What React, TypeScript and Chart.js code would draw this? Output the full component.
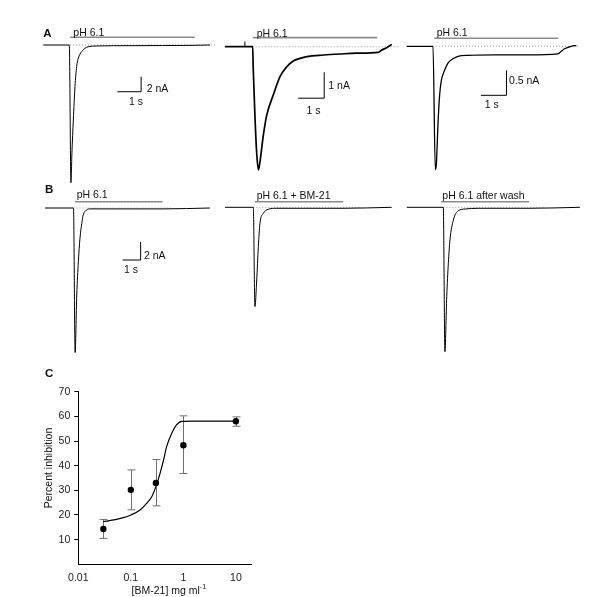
import React, { useEffect, useRef } from 'react';
import { Chart, registerables } from 'chart.js';
Chart.register(...registerables);

const FONT = "'Liberation Sans', Arial, Helvetica, sans-serif";
Chart.defaults.font.family = FONT;

// ---------- Panel A traces (time in s, current in nA) ----------
const A1_T = [-1.1, 0, 0.07, 0.11, 0.17, 0.24, 0.31, 0.38, 0.52, 0.66, 0.8, 1.16, 2.56, 5.3, 5.94];
const A1_V = [0, 0, -18.36, -14.44, -10.0, -5.56, -2.89, -1.77, -0.89, -0.44, -0.23, -0.13, -0.09, -0.04, 0];

const A2_T = [-1.07, 0, 0.02, 0.09, 0.15, 0.22, 0.28, 0.41, 0.54, 0.79, 1.05, 1.31, 1.56, 1.82, 2.08, 2.72, 3.36, 4.0, 4.83, 4.96, 5.15, 5.35];
const A2_V = [0, 0, -0.83, -2.75, -4.04, -4.74, -4.42, -3.4, -2.63, -1.86, -1.15, -0.77, -0.55, -0.45, -0.38, -0.32, -0.28, -0.25, -0.22, -0.13, -0.04, 0.09];

const A3_T = [-1.03, 0, 0.09, 0.13, 0.2, 0.26, 0.32, 0.46, 0.59, 0.78, 0.98, 1.37, 2.41, 3.71, 4.88, 5.01, 5.14, 5.4, 5.6];
const A3_V = [0, 0, -2.47, -2.37, -1.5, -0.97, -0.7, -0.47, -0.33, -0.25, -0.2, -0.18, -0.17, -0.17, -0.15, -0.1, -0.05, 0, 0.02];

// ---------- Panel B traces ----------
const B1_T = [-1.58, 0, 0.09, 0.18, 0.27, 0.36, 0.46, 0.54, 0.73, 0.92, 4.97, 7.58];
const B1_V = [0, 0, -16.06, -9.67, -5.97, -3.37, -1.7, -0.78, -0.22, -0.1, -0.1, 0];

const B2_T = [-1.57, 0, 0.09, 0.19, 0.28, 0.37, 0.56, 0.83, 1.3, 4.98, 7.69];
const B2_V = [0, 0, -11.04, -8.08, -4.38, -1.78, -0.67, -0.22, -0.11, -0.11, 0];

const B3_T = [-2.03, 0, 0.09, 0.19, 0.28, 0.37, 0.56, 0.83, 1.21, 1.94, 4.76, 7.59];
const B3_V = [0, 0, -16.04, -9.93, -6.22, -3.63, -1.41, -0.38, -0.19, -0.11, -0.11, 0];

// pH application periods (s) and baseline dotted extents (s)
const A1_PH = [0.03, 5.3];
const A2_PH = [0, 4.79];
const A3_PH = [0.05, 4.89];
const B1_PH = [0.08, 4.95];
const B2_PH = [0.09, 5.0];
const B3_PH = [-0.13, 4.76];
const A1_DOT = [0.03, 6.15];
const A2_DOT = [0, 5.67];
const A3_DOT = [0, 5.74];
const B1_DOT = [0, 5.4];
const B2_DOT = [0, 6.0];
const B3_DOT = [0, 5.6];

// scale bars: [1 s, X nA]
const A1_SCALE = [1, 2];
const A2_SCALE = [1, 1];
const A3_SCALE = [1, 0.5];
const B1_SCALE = [1, 2];

// ---------- Panel C ----------
const C_X = [0.03, 0.1, 0.3, 1, 10];
const C_Y = [14.3, 30.2, 33.0, 48.3, 58.0];
const C_LO = [10.5, 22.1, 23.7, 36.8, 56.0];
const C_HI = [18.2, 38.3, 42.5, 60.2, 59.8];
const FIT_X = [0.03, 0.047, 0.072, 0.1, 0.15, 0.2, 0.25, 0.3, 0.36, 0.42, 0.48, 0.6, 0.74, 0.93, 1.5, 3, 10];
const FIT_Y = [17.3, 18.0, 18.9, 20.0, 22.0, 24.7, 27.4, 31.5, 36.9, 42.3, 47.7, 53.1, 56.5, 58.0, 58.1, 58.1, 58.1];
const X_TICKS = [0.01, 0.1, 1, 10];

// ---------- layout (pixels) ----------
type Box = { left: number; top: number; width: number; height: number; ox: number; oy: number; sx: number; sy: number };
type Panel = {
  box: Box; t: number[]; v: number[]; lw: number; ph: number[]; phLevel: number; dot: number[];
  scale?: number[]; scaleAt?: number[]; tick?: number[];
};

const PANELS: Panel[] = [
  { box: { left: 35, top: 22, width: 185, height: 168, ox: 69.3, oy: 45, sx: 23.7, sy: 7.5 },
    t: A1_T, v: A1_V, lw: 1, ph: A1_PH, phLevel: 1.03, dot: A1_DOT, scale: A1_SCALE, scaleAt: [2.03, -6.23] },
  { box: { left: 212, top: 22, width: 200, height: 168, ox: 252.7, oy: 46.7, sx: 26, sy: 26 },
    t: A2_T, v: A2_V, lw: 1.7, ph: A2_PH, phLevel: 0.35, dot: A2_DOT, scale: A2_SCALE, scaleAt: [1.75, -1.98], tick: [-0.3, 0.2] },
  { box: { left: 400, top: 22, width: 190, height: 168, ox: 433, oy: 46.3, sx: 25.6, sy: 50 },
    t: A3_T, v: A3_V, lw: 1.3, ph: A3_PH, phLevel: 0.16, dot: A3_DOT, scale: A3_SCALE, scaleAt: [1.87, -0.98] },
  { box: { left: 35, top: 185, width: 190, height: 175, ox: 73.5, oy: 208, sx: 18, sy: 9 },
    t: B1_T, v: B1_V, lw: 1, ph: B1_PH, phLevel: 0.7, dot: B1_DOT, scale: B1_SCALE, scaleAt: [2.73, -5.78] },
  { box: { left: 215, top: 185, width: 190, height: 175, ox: 253.3, oy: 207.3, sx: 18, sy: 9 },
    t: B2_T, v: B2_V, lw: 1, ph: B2_PH, phLevel: 0.62, dot: B2_DOT },
  { box: { left: 400, top: 185, width: 190, height: 175, ox: 443.3, oy: 207.3, sx: 18, sy: 9 },
    t: B3_T, v: B3_V, lw: 1, ph: B3_PH, phLevel: 0.62, dot: B3_DOT },
];

function TraceChart({ p }: { p: Panel }) {
  const ref = useRef<HTMLCanvasElement>(null);
  const b = p.box;
  useEffect(() => {
    const xmin = (b.left - b.ox) / b.sx;
    const xmax = (b.left + b.width - b.ox) / b.sx;
    const ymax = (b.oy - b.top) / b.sy;
    const ymin = (b.oy - b.top - b.height) / b.sy;
    const datasets: any[] = [
      { data: p.t.map((t, i) => ({ x: t, y: p.v[i] })), borderColor: '#000', borderWidth: p.lw,
        cubicInterpolationMode: 'monotone', order: 0 },
      { data: [{ x: p.dot[0], y: 0 }, { x: p.dot[1], y: 0 }], borderColor: '#9a9a9a', borderWidth: 1,
        borderDash: [1, 2], order: 3 },
      { data: [{ x: p.ph[0], y: p.phLevel }, { x: p.ph[1], y: p.phLevel }], borderColor: '#8c8c8c',
        borderWidth: 1.6, order: 2 },
    ];
    if (p.scale && p.scaleAt) {
      const [t0, v0] = p.scaleAt;
      const [dt, dv] = p.scale;
      datasets.push({ data: [{ x: t0, y: v0 }, { x: t0 + dt, y: v0 }, { x: t0 + dt, y: v0 + dv }],
        borderColor: '#000', borderWidth: 1, order: 1 });
    }
    if (p.tick) {
      datasets.push({ data: [{ x: p.tick[0], y: 0 }, { x: p.tick[0], y: p.tick[1] }],
        borderColor: '#000', borderWidth: 1, order: 1 });
    }
    const chart = new Chart(ref.current as HTMLCanvasElement, {
      type: 'line',
      data: { datasets },
      options: {
        animation: false, responsive: false, events: [],
        layout: { padding: 0 },
        elements: { point: { radius: 0 }, line: { tension: 0, fill: false } },
        plugins: { legend: { display: false }, tooltip: { enabled: false } },
        scales: {
          x: { type: 'linear', display: false, min: xmin, max: xmax },
          y: { type: 'linear', display: false, min: ymin, max: ymax },
        },
      } as any,
    });
    return () => chart.destroy();
  }, []);
  return (
    <canvas ref={ref} width={b.width} height={b.height}
      style={{ position: 'absolute', left: b.left, top: b.top, width: b.width, height: b.height }} />
  );
}

const errorBarPlugin = {
  id: 'errorBars',
  beforeDatasetsDraw(chart: any) {
    const { ctx, scales } = chart;
    const x = scales.x, y = scales.y;
    ctx.save();
    ctx.strokeStyle = '#707070';
    ctx.lineWidth = 1;
    C_X.forEach((cx, i) => {
      const px = Math.round(x.getPixelForValue(cx)) + 0.5;
      const lo = y.getPixelForValue(C_LO[i]);
      const hi = y.getPixelForValue(C_HI[i]);
      ctx.beginPath();
      ctx.moveTo(px, lo); ctx.lineTo(px, hi);
      ctx.moveTo(px - 4, lo); ctx.lineTo(px + 4, lo);
      ctx.moveTo(px - 4, hi); ctx.lineTo(px + 4, hi);
      ctx.stroke();
    });
    ctx.restore();
  },
};

function DoseChart() {
  const ref = useRef<HTMLCanvasElement>(null);
  useEffect(() => {
    const tickFont = { family: FONT, size: 10.5 };
    const chart = new Chart(ref.current as HTMLCanvasElement, {
      type: 'line',
      data: {
        datasets: [
          { data: FIT_X.map((x, i) => ({ x, y: FIT_Y[i] })), borderColor: '#000', borderWidth: 1.2,
            cubicInterpolationMode: 'monotone', pointRadius: 0, order: 1 },
          { data: C_X.map((x, i) => ({ x, y: C_Y[i] })), showLine: false, pointRadius: 3.2,
            pointBackgroundColor: '#000', pointBorderColor: '#000', pointBorderWidth: 0, order: 0 },
        ],
      },
      options: {
        animation: false, responsive: false, events: [],
        layout: { padding: { left: 0, right: 18.3, top: 26.7, bottom: 0 } },
        plugins: { legend: { display: false }, tooltip: { enabled: false } },
        scales: {
          x: {
            type: 'logarithmic', min: 0.01, max: 20,
            afterBuildTicks: (s: any) => { s.ticks = X_TICKS.map((v) => ({ value: v })); },
            afterFit: (s: any) => { s.height = 32.7; },
            ticks: { font: tickFont, color: '#222', padding: 4, autoSkip: false, maxRotation: 0,
              callback: (v: any) => String(v) },
            grid: { drawOnChartArea: false, drawTicks: true, tickLength: 4, tickColor: 'rgba(0,0,0,0)' },
            border: { display: true, color: '#000', width: 1 },
          },
          y: {
            type: 'linear', min: 0, max: 70,
            afterFit: (s: any) => { s.width = 78.3; },
            ticks: { font: tickFont, color: '#222', padding: 4, stepSize: 10,
              callback: (v: any) => (v === 0 ? '' : String(v)) },
            grid: { drawOnChartArea: false, drawTicks: true, tickLength: 4,
              tickColor: (c: any) => (c.tick && c.tick.value === 0 ? 'rgba(0,0,0,0)' : '#000') },
            border: { display: true, color: '#000', width: 1 },
          },
        },
      } as any,
      plugins: [errorBarPlugin],
    });
    return () => chart.destroy();
  }, []);
  return (
    <canvas ref={ref} width={270} height={232}
      style={{ position: 'absolute', left: 0, top: 365, width: 270, height: 232 }} />
  );
}

type Label = { text: React.ReactNode; x: number; y: number; bold?: boolean; size?: number };
const LABELS: Label[] = [
  { text: 'A', x: 43.3, y: 34, bold: true, size: 11.5 },
  { text: 'pH 6.1', x: 73.3, y: 31.7 },
  { text: '2 nA', x: 146.7, y: 87.7 },
  { text: '1 s', x: 129, y: 100.7 },
  { text: 'pH 6.1', x: 256.7, y: 32.7 },
  { text: '1 nA', x: 328.3, y: 85 },
  { text: '1 s', x: 306.5, y: 109.5 },
  { text: 'pH 6.1', x: 436.7, y: 31.7 },
  { text: '0.5 nA', x: 509, y: 80 },
  { text: '1 s', x: 484.7, y: 104 },
  { text: 'B', x: 45, y: 190, bold: true, size: 11.5 },
  { text: 'pH 6.1', x: 76.7, y: 194 },
  { text: '2 nA', x: 144, y: 255 },
  { text: '1 s', x: 124, y: 269.3 },
  { text: 'pH 6.1 + BM-21', x: 256.7, y: 195 },
  { text: 'pH 6.1 after wash', x: 442.3, y: 195 },
  { text: 'C', x: 45, y: 374.3, bold: true, size: 11.5 },
];

export default function App() {
  return (
    <div style={{ position: 'fixed', left: 0, top: 0, width: 600, height: 597, background: '#fff', overflow: 'hidden', fontFamily: FONT }}>
      {PANELS.map((p, i) => <TraceChart key={i} p={p} />)}
      <DoseChart />
      {LABELS.map((l, i) => (
        <div key={i} style={{ position: 'absolute', left: l.x, top: l.y, transform: 'translateY(-50%)',
          fontSize: l.size || 10.5, lineHeight: 1, fontWeight: l.bold ? 'bold' : 'normal', color: '#111', whiteSpace: 'nowrap' }}>
          {l.text}
        </div>
      ))}
      <div style={{ position: 'absolute', left: 48.3, top: 468, transform: 'translate(-50%, -50%) rotate(-90deg)',
        fontSize: 10.5, lineHeight: 1, color: '#111', whiteSpace: 'nowrap' }}>Percent inhibition</div>
      <div style={{ position: 'absolute', left: 168.8, top: 590, transform: 'translate(-50%, -50%)',
        fontSize: 10.5, lineHeight: 1, color: '#111', whiteSpace: 'nowrap' }}>
        [BM-21] mg ml<sup style={{ fontSize: 7, verticalAlign: 'top', position: 'relative', top: -2 }}>-1</sup>
      </div>
    </div>
  );
}
